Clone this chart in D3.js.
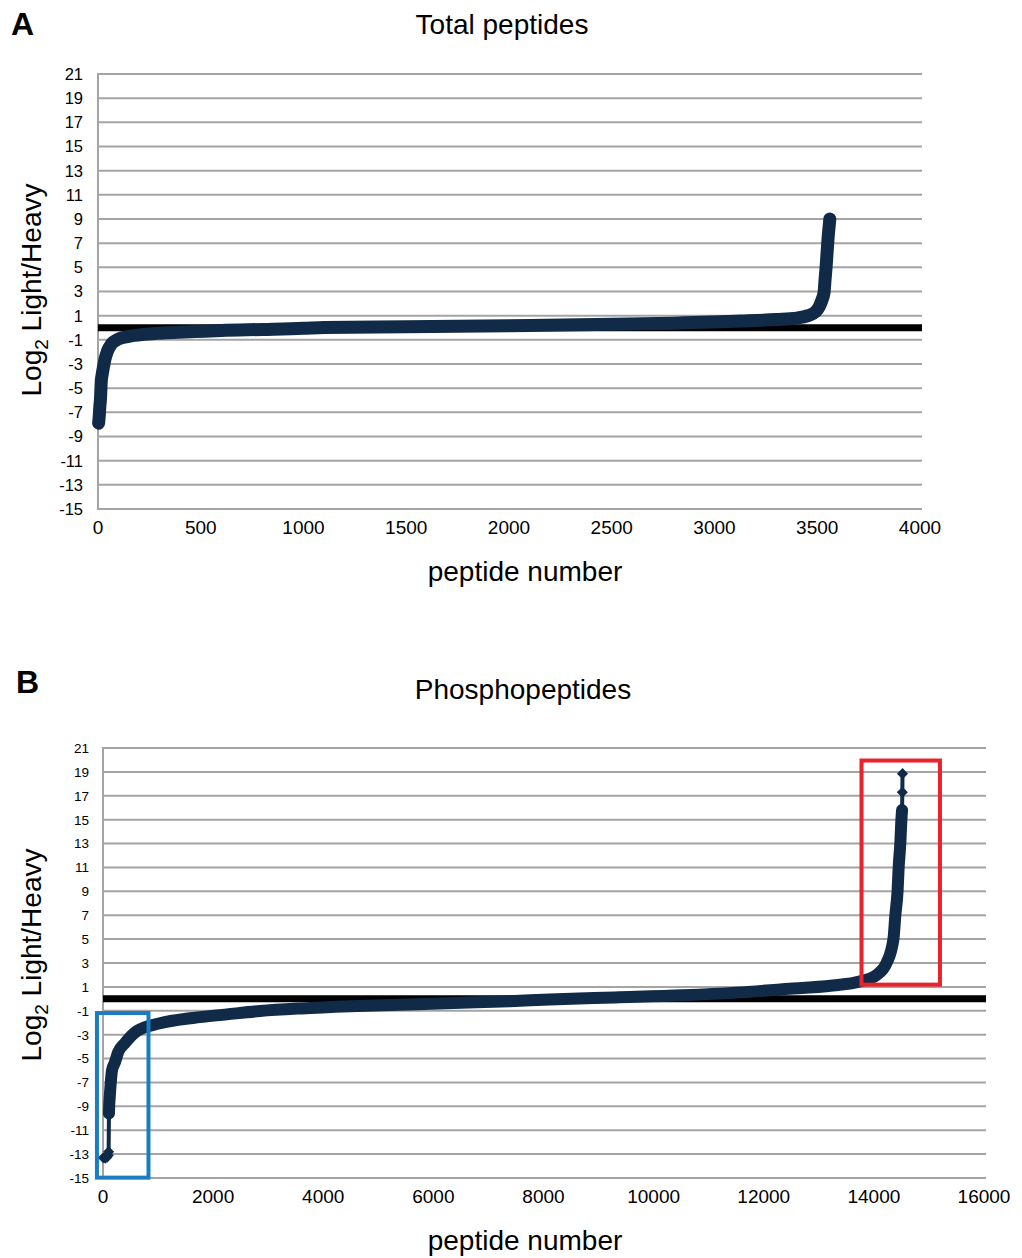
<!DOCTYPE html>
<html>
<head>
<meta charset="utf-8">
<script src="https://cdn.jsdelivr.net/npm/d3@7"></script>
<style>
  body { margin: 0; background: #fff; }
  text { font-family: "Liberation Sans", Arial, Helvetica, sans-serif; fill: #000; }
</style>
</head>
<body>
<div id="chart"></div>
<script>
// ---- data ----
const yTickValues = [21, 19, 17, 15, 13, 11, 9, 7, 5, 3, 1, -1, -3, -5, -7, -9, -11, -13, -15];
const xTicksTotal = [0, 500, 1000, 1500, 2000, 2500, 3000, 3500, 4000];
const xTicksPhospho = [0, 2000, 4000, 6000, 8000, 10000, 12000, 14000, 16000];

// Panel A: sorted log2 light/heavy ratios, [peptide number, log2 ratio]
const totalPeptides = [
  [3, -7.9], [6, -7.3], [9, -6.5], [12, -5.9], [16, -4.4], [20, -3.9], [26, -3.3],
  [34, -2.6], [47, -1.9], [65, -1.35], [97, -0.95], [150, -0.72], [225, -0.55],
  [330, -0.42], [470, -0.32], [600, -0.22], [800, -0.14], [1000, -0.05], [1100, 0.02],
  [1500, 0.08], [2000, 0.17], [2500, 0.28], [2800, 0.38], [3130, 0.55], [3300, 0.68],
  [3400, 0.8], [3455, 1.0], [3490, 1.3], [3510, 1.75], [3525, 2.4], [3533, 2.9],
  [3538, 4.0], [3543, 5.0], [3547, 6.0], [3551, 7.0], [3555, 7.9], [3558, 8.4], [3561, 9.0]
];

// Panel B: isolated low outliers, main body, isolated high outliers
const phosphoLowTail = [[5, -13.3], [40, -13.35], [75, -13.25], [95, -13.1], [102, -12.8]];
const phosphoBody = [
  [108, -9.6], [112, -9.0], [118, -8.5], [127, -7.9], [145, -6.8], [163, -6.0],
  [218, -5.3], [272, -4.5], [400, -3.7], [617, -2.7], [1035, -2.05], [1633, -1.6],
  [2250, -1.3], [2850, -1.02], [3600, -0.8], [4480, -0.62], [5700, -0.45], [6500, -0.33],
  [7390, -0.2], [8110, -0.05], [9300, 0.12], [10530, 0.3], [11500, 0.52], [12340, 0.8],
  [13250, 1.12], [13740, 1.45], [14050, 2.0], [14230, 3.0], [14355, 5.0], [14390, 7.0],
  [14430, 9.0], [14450, 11.0], [14480, 13.0], [14500, 15.0], [14512, 15.8]
];
const phosphoHighTail = [[14517, 17.3], [14520, 18.85]];

// highlight boxes [x0, x1, yLow, yHigh] in data units
const boxDown = [-110, 826, -14.97, -1.19];
const boxUp = [13775, 15200, 1.19, 19.95];

// ---- drawing ----
const svg = d3.select("#chart")
  .append("svg")
  .attr("width", 1022)
  .attr("height", 1258);

const markColor = "#112a48";
const gridColor = "#a4a4a4";

function drawPanel(cfg) {
  const x = d3.scaleLinear().domain([0, cfg.xMax]).range([cfg.left, cfg.right]);
  const y = d3.scaleLinear().domain([-15, 21]).range([cfg.bottom, cfg.top]);
  const g = svg.append("g");

  // horizontal gridlines
  g.selectAll(".grid")
    .data(yTickValues)
    .join("line")
    .attr("x1", cfg.left)
    .attr("x2", cfg.right + 2)
    .attr("y1", (d) => y(d))
    .attr("y2", (d) => y(d))
    .attr("stroke", gridColor)
    .attr("stroke-width", 2);

  // left axis line
  g.append("line")
    .attr("x1", cfg.left).attr("x2", cfg.left)
    .attr("y1", cfg.top - 1).attr("y2", cfg.bottom + 1)
    .attr("stroke", gridColor)
    .attr("stroke-width", 2);

  // y tick labels
  g.selectAll(".ytick")
    .data(yTickValues)
    .join("text")
    .attr("x", cfg.left - cfg.yLabelGap)
    .attr("y", (d) => y(d))
    .attr("dy", "0.36em")
    .attr("text-anchor", "end")
    .attr("font-size", cfg.yTickSize + "px")
    .text((d) => d);

  // x tick labels
  g.selectAll(".xtick")
    .data(cfg.xTicks)
    .join("text")
    .attr("x", (d) => x(d))
    .attr("y", cfg.bottom + 25)
    .attr("text-anchor", "middle")
    .attr("font-size", "19px")
    .text((d) => d);

  // zero reference line
  g.append("line")
    .attr("x1", cfg.left).attr("x2", cfg.right + 2)
    .attr("y1", y(0)).attr("y2", y(0))
    .attr("stroke", "#000")
    .attr("stroke-width", 7);

  const line = d3.line()
    .curve(d3.curveMonotoneX)
    .x((d) => x(d[0]))
    .y((d) => y(d[1]));

  const all = cfg.lowTail.concat(cfg.body, cfg.highTail);

  // thin connector through every point, then the dense body
  g.append("path")
    .datum(all)
    .attr("d", line)
    .attr("fill", "none")
    .attr("stroke", markColor)
    .attr("stroke-width", 4);

  g.append("path")
    .datum(cfg.body)
    .attr("d", line)
    .attr("fill", "none")
    .attr("stroke", markColor)
    .attr("stroke-width", cfg.bodyWidth)
    .attr("stroke-linejoin", "round")
    .attr("stroke-linecap", "round");

  // diamond markers
  const diamond = d3.symbol().type(d3.symbolSquare).size(62);
  g.selectAll(".pt")
    .data(all)
    .join("path")
    .attr("d", diamond)
    .attr("transform", (d) => `translate(${x(d[0])},${y(d[1])}) rotate(45)`)
    .attr("fill", markColor);

  // highlight boxes
  cfg.boxes.forEach(([b, color]) => {
    g.append("rect")
      .attr("x", x(b[0]))
      .attr("y", y(b[3]))
      .attr("width", x(b[1]) - x(b[0]))
      .attr("height", y(b[2]) - y(b[3]))
      .attr("fill", "none")
      .attr("stroke", color)
      .attr("stroke-width", 4);
  });

  // titles
  g.append("text")
    .attr("x", cfg.titleX)
    .attr("y", cfg.titleY)
    .attr("text-anchor", "middle")
    .attr("font-size", "28px")
    .text(cfg.title);

  g.append("text")
    .attr("x", 525)
    .attr("y", cfg.bottom + 72)
    .attr("text-anchor", "middle")
    .attr("font-size", "28px")
    .text("peptide number");

  const yt = g.append("text")
    .attr("transform", `translate(41,${cfg.yTitleY}) rotate(-90)`)
    .attr("text-anchor", "middle")
    .attr("font-size", "28px");
  yt.append("tspan").text("Log");
  yt.append("tspan").attr("font-size", "19px").attr("dy", 7).text("2");
  yt.append("tspan").attr("dy", -7).text(" Light/Heavy");

  g.append("text")
    .attr("x", cfg.letterX)
    .attr("y", cfg.letterY)
    .attr("font-size", "32px")
    .attr("font-weight", "bold")
    .text(cfg.letter);
}

drawPanel({
  left: 98, right: 920, top: 74, bottom: 509,
  xMax: 4000, xTicks: xTicksTotal,
  yTickSize: 16.5, yLabelGap: 15, bodyWidth: 13,
  lowTail: [], body: totalPeptides, highTail: [],
  boxes: [],
  title: "Total peptides", titleX: 502, titleY: 34, yTitleY: 290,
  letter: "A", letterX: 11, letterY: 35
});

drawPanel({
  left: 103, right: 984, top: 748, bottom: 1178,
  xMax: 16000, xTicks: xTicksPhospho,
  yTickSize: 13.5, yLabelGap: 14, bodyWidth: 12,
  lowTail: phosphoLowTail, body: phosphoBody, highTail: phosphoHighTail,
  boxes: [[boxDown, "#1a7cc1"], [boxUp, "#e9222b"]],
  title: "Phosphopeptides", titleX: 523, titleY: 699, yTitleY: 955,
  letter: "B", letterX: 16, letterY: 693
});
</script>
</body>
</html>
